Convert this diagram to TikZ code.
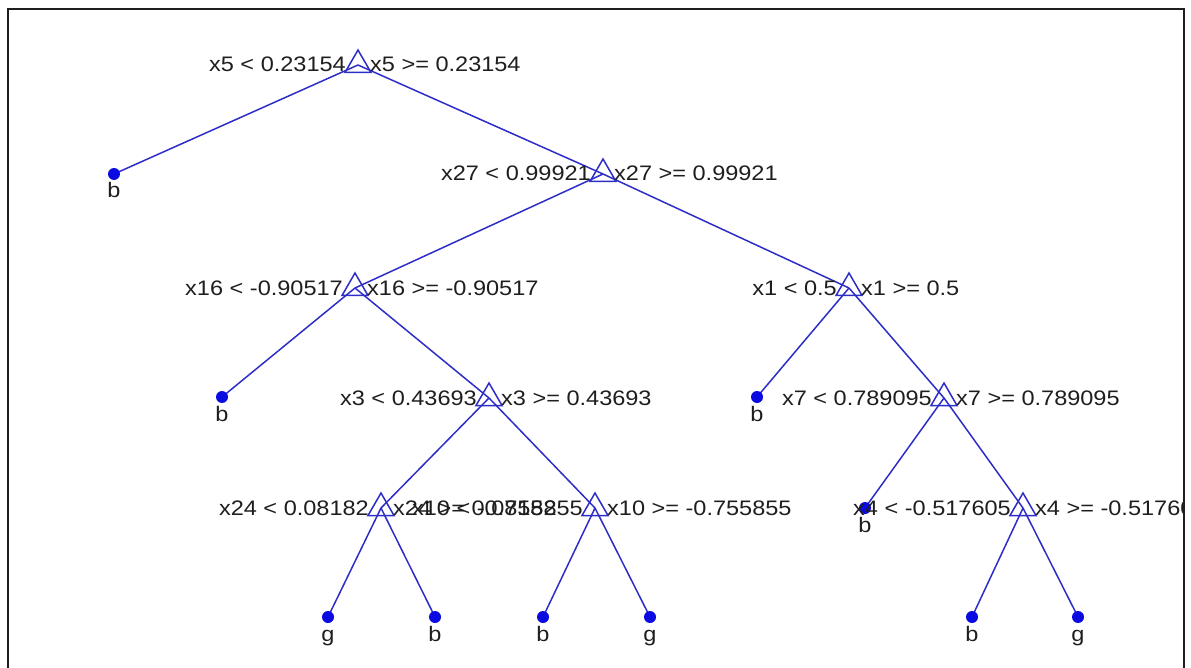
\documentclass[tikz,border=0pt]{standalone}
\usepackage{fontspec}
\setmainfont[FakeStretch=1.12]{Liberation Sans}
\usetikzlibrary{shapes.geometric,backgrounds}
\definecolor{edgeblue}{RGB}{45,45,200}
\definecolor{dotblue}{RGB}{10,10,225}
\definecolor{txt}{RGB}{30,30,30}
\definecolor{framecol}{RGB}{30,30,30}
\tikzset{
  split/.style={regular polygon, regular polygon sides=3, draw=edgeblue, line width=1.5pt, minimum size=30pt, inner sep=0pt},
  leaf/.style={circle, fill=dotblue, minimum size=12pt, inner sep=0pt},
  lbl/.style={text=txt, inner sep=0pt, font=\fontsize{21}{25}\selectfont},
  lt/.style={lbl, anchor=base east},
  rt/.style={lbl, anchor=base west},
  lf/.style={lbl, anchor=base},
  edge/.style={draw=edgeblue, line width=1.5pt}
}
\begin{document}
\begin{tikzpicture}[x=1pt,y=-1pt]
\useasboundingbox (0,0) rectangle (1191,668);
\draw[framecol, line width=2pt] (7.5,668) -- (7.5,9.5) -- (1183.5,9.5) -- (1183.5,668);

% split nodes
\node[split] (root) at (358,65) {};
\node[split] (n27) at (603,174) {};
\node[split] (n16) at (355,288) {};
\node[split] (n1) at (849,288) {};
\node[split] (n3) at (489,398) {};
\node[split] (n7) at (944,398) {};
\node[split] (n24) at (381,508) {};
\node[split] (n10) at (595,508) {};
\node[split] (n4) at (1023,508) {};

% leaves
\node[leaf] (lA) at (114,174) {};
\node[leaf] (lB) at (222,397) {};
\node[leaf] (lC) at (757,397) {};
\node[leaf] (lD) at (865,508) {};
\node[leaf] (lE) at (328,617) {};
\node[leaf] (lF) at (435,617) {};
\node[leaf] (lG) at (543,617) {};
\node[leaf] (lH) at (650,617) {};
\node[leaf] (lI) at (972,617) {};
\node[leaf] (lJ) at (1078,617) {};

% leaf labels
\node[lf] (tA) at (114,198) {b};
\node[lf] (tB) at (222,421) {b};
\node[lf] (tC) at (757,421) {b};
\node[lf] (tD) at (865,532) {b};
\node[lf] (tE) at (328,641) {g};
\node[lf] (tF) at (435,641) {b};
\node[lf] (tG) at (543,641) {b};
\node[lf] (tH) at (650,641) {g};
\node[lf] (tI) at (972,641) {b};
\node[lf] (tJ) at (1078,641) {g};

% split labels
\node[lt] (a0) at (346,72) {x5 < 0.23154};
\node[rt] (b0) at (370,72) {x5 >= 0.23154};
\node[lt] (a27) at (591,181) {x27 < 0.99921};
\node[rt] (b27) at (614,181) {x27 >= 0.99921};
\node[lt] (a16) at (343,295) {x16 < -0.90517};
\node[rt] (b16) at (367,295) {x16 >= -0.90517};
\node[lt] (a1) at (837,295) {x1 < 0.5};
\node[rt] (b1) at (861,295) {x1 >= 0.5};
\node[lt] (a3) at (477,405) {x3 < 0.43693};
\node[rt] (b3) at (501,405) {x3 >= 0.43693};
\node[lt] (a7) at (932,405) {x7 < 0.789095};
\node[rt] (b7) at (956,405) {x7 >= 0.789095};
\node[lt] (a24) at (369,515) {x24 < 0.08182};
\node[rt] (b24) at (393,515) {x24 >= 0.08182};
\node[lt] (a10) at (583,515) {x10 < -0.755855};
\node[rt] (b10) at (607,515) {x10 >= -0.755855};
\node[lt] (a4) at (1011,515) {x4 < -0.517605};
\begin{scope}
\clip (7.5,9.5) rectangle (1182.5,668);
\node[rt] (b4) at (1035,515) {x4 >= -0.517605};
\end{scope}

\begin{pgfonlayer}{background}
\draw[edge] (root.center) -- (lA.center);
\draw[edge] (root.center) -- (n27.center);
\draw[edge] (n27.center) -- (n16.center);
\draw[edge] (n27.center) -- (n1.center);
\draw[edge] (n16.center) -- (lB.center);
\draw[edge] (n16.center) -- (n3.center);
\draw[edge] (n1.center) -- (lC.center);
\draw[edge] (n1.center) -- (n7.center);
\draw[edge] (n3.center) -- (n24.center);
\draw[edge] (n3.center) -- (n10.center);
\draw[edge] (n7.center) -- (lD.center);
\draw[edge] (n7.center) -- (n4.center);
\draw[edge] (n24.center) -- (lE.center);
\draw[edge] (n24.center) -- (lF.center);
\draw[edge] (n10.center) -- (lG.center);
\draw[edge] (n10.center) -- (lH.center);
\draw[edge] (n4.center) -- (lI.center);
\draw[edge] (n4.center) -- (lJ.center);
\end{pgfonlayer}
\end{tikzpicture}
\end{document}
